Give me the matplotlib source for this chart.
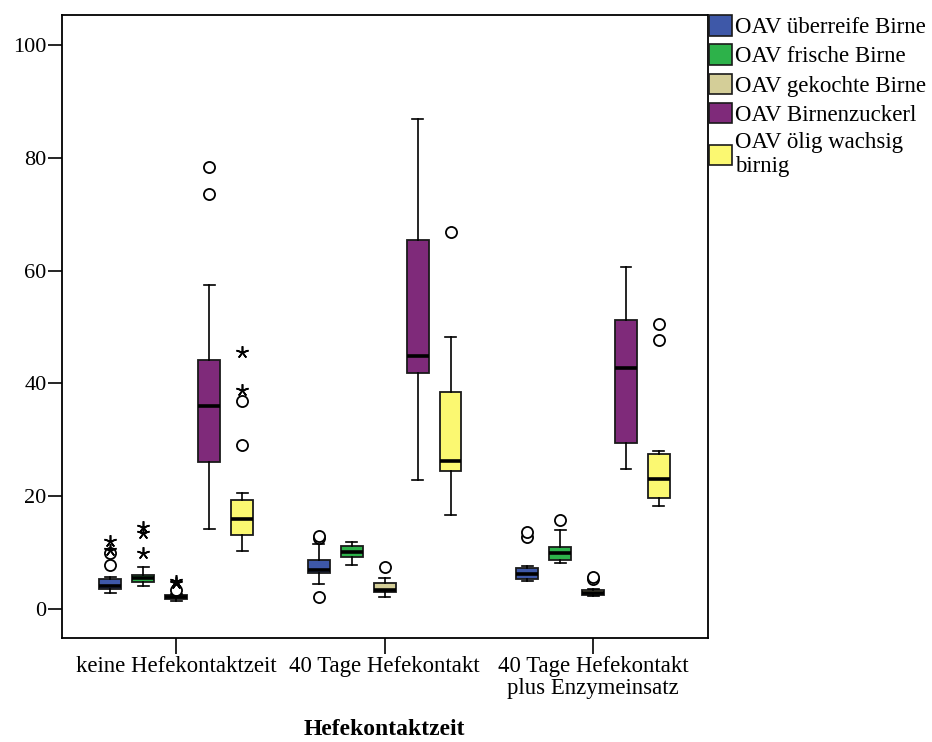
import matplotlib
matplotlib.use("Agg")
import matplotlib.pyplot as plt
import numpy as np
from matplotlib.patches import Patch

plt.rcParams["font.family"] = ["Liberation Serif", "DejaVu Serif"]

groups = ["keine Hefekontaktzeit", "40 Tage Hefekontakt", "40 Tage Hefekontakt\nplus Enzymeinsatz"]
series = ["OAV überreife Birne", "OAV frische Birne", "OAV gekochte Birne",
          "OAV Birnenzuckerl", "OAV ölig wachsig\nbirnig"]
colors = ["#3E58A8", "#2DB24A", "#D4CE98", "#7F2A7A", "#FBF871"]

# box statistics, one row per series, one column per group
whislo = [[2.8, 4.4, 5.0], [4.0, 7.8, 8.2], [1.4, 2.0, 2.2], [14.2, 22.9, 24.8], [10.3, 16.6, 18.3]]
q1 = [[3.5, 6.4, 5.2], [4.7, 9.1, 8.7], [1.7, 3.0, 2.4], [26.0, 41.8, 29.4], [13.1, 24.5, 19.6]]
med = [[4.1, 6.9, 6.2], [5.5, 10.0, 9.9], [2.0, 3.3, 2.8], [35.9, 44.9, 42.7], [15.9, 26.3, 23.0]]
q3 = [[5.3, 8.6, 7.3], [5.9, 11.1, 11.0], [2.4, 4.5, 3.4], [44.2, 65.5, 51.3], [19.3, 38.4, 27.4]]
whishi = [[5.6, 11.4, 7.5], [7.4, 11.9, 14.0], [2.6, 5.5, 3.5], [57.4, 87.0, 60.7], [20.5, 48.2, 28.0]]

# outliers (circles) and extremes (stars)
circles = [[[7.8, 9.8], [2.1, 12.5, 12.9], [12.7, 13.6]],
           [[], [], [15.8]],
           [[3.4], [7.4], [5.2, 5.6]],
           [[73.7, 78.4], [], []],
           [[29.1, 36.9], [66.8], [47.7, 50.6]]]
stars = [[[10.4, 12.1], [], []],
         [[9.9, 13.5, 14.5], [], []],
         [[4.5, 4.9], [], []],
         [[], [], []],
         [[38.8, 45.6], [], []]]

fig = plt.figure(figsize=(9.32, 7.42), dpi=100)
ax = fig.add_axes([62 / 932, 1 - 637.7 / 742, 645.5 / 932, 622.7 / 742])

step = 0.158
width = 0.105
for j in range(len(series)):
    stats = []
    pos = []
    for i in range(len(groups)):
        stats.append(dict(med=med[j][i], q1=q1[j][i], q3=q3[j][i],
                          whislo=whislo[j][i], whishi=whishi[j][i], fliers=circles[j][i]))
        pos.append(i + (j - 2) * step)
    ax.bxp(stats, positions=pos, widths=width, capwidths=width * 0.5, patch_artist=True,
           boxprops=dict(facecolor=colors[j], edgecolor="#1a1a1a", linewidth=1.3),
           medianprops=dict(color="black", linewidth=2.6),
           whiskerprops=dict(color="black", linewidth=1.2),
           capprops=dict(color="black", linewidth=1.2),
           flierprops=dict(marker="o", markerfacecolor="white", markeredgecolor="black",
                           markersize=8, markeredgewidth=1.3),
           manage_ticks=False)
    for i in range(len(groups)):
        if stars[j][i]:
            ax.plot([pos[i]] * len(stars[j][i]), stars[j][i], linestyle="none",
                    marker=(5, 2, 0), markersize=9, color="black", markeredgewidth=1.2)

ax.set_xlim(-0.548, 2.549)
ax.set_ylim(-5.15, 105.4)
ax.set_xticks(range(len(groups)))
ax.set_xticklabels(groups, fontsize=16.4, linespacing=1.05)
ax.set_yticks([0, 20, 40, 60, 80, 100])
ax.tick_params(axis="y", labelsize=16, length=10, width=1.2, pad=1)
ax.tick_params(axis="x", length=11.5, width=1.2, pad=2)
for s in ax.spines.values():
    s.set_linewidth(1.3)
ax.set_xlabel("Hefekontaktzeit", fontsize=17, fontweight="bold", labelpad=14)

handles = [Patch(facecolor=c, edgecolor="#1a1a1a", linewidth=1.2) for c in colors]
fig.legend(handles, series, loc="upper left", bbox_to_anchor=(709 / 932, 1 - 15 / 742),
           frameon=False, fontsize=16.5, handlelength=1.0, handleheight=1.0,
           handletextpad=0.15, labelspacing=0.27, borderpad=0, borderaxespad=0)

fig.savefig("out.png", dpi=100)
